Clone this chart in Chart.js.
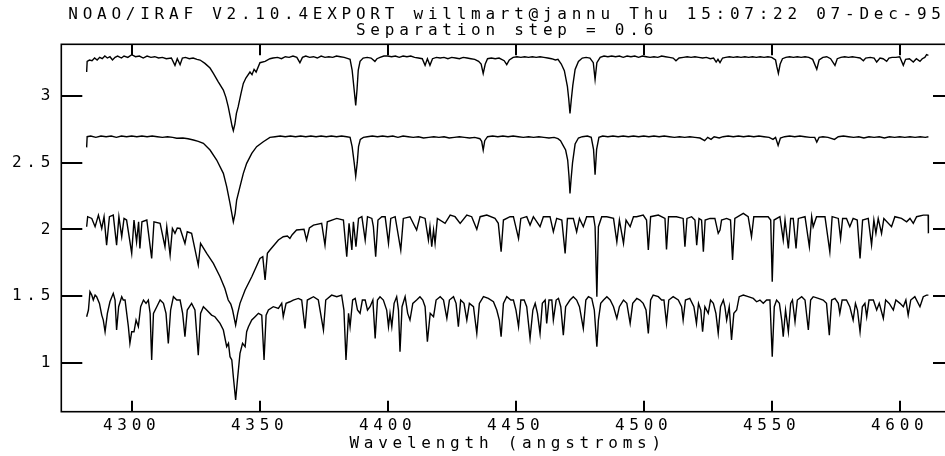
<!DOCTYPE html>
<html>
<head>
<meta charset="utf-8">
<script src="https://cdn.jsdelivr.net/npm/chart.js@4/dist/chart.umd.min.js"></script>
<style>
html,body{margin:0;padding:0;background:#fff;overflow:hidden;width:945px;height:456px;}
canvas{display:block;}
</style>
</head>
<body>
<canvas id="c" width="1014" height="456" style="width:1014px;height:456px"></canvas>
<script>
// ---- data (wavelength in angstroms, flux + offset) ----
const titleLines = ["NOAO/IRAF V2.10.4EXPORT willmart@jannu Thu 15:07:22 07-Dec-95", "Separation step = 0.6"];
const xAxisTitle = "Wavelength (angstroms)";
const xTickValues = [4300, 4350, 4400, 4450, 4500, 4550, 4600];
const yTickValues = [1, 1.5, 2, 2.5, 3];

const specA = [[4282.4,3.18],[4282.6,3.26],[4283.5,3.27],[4284.5,3.265],[4285.5,3.285],[4286.5,3.27],[4287.5,3.29],[4288.5,3.28],[4289.5,3.30],[4290.5,3.285],[4291.5,3.295],[4292.5,3.27],[4293.5,3.29],[4294.5,3.30],[4296,3.285],[4297,3.30],[4298.5,3.29],[4300,3.31],[4301.5,3.295],[4303,3.30],[4304.5,3.285],[4306,3.30],[4307.5,3.29],[4309,3.295],[4310.5,3.285],[4312,3.29],[4313.5,3.28],[4315.5,3.285],[4316.9,3.23],[4317.8,3.28],[4318.9,3.235],[4319.8,3.285],[4321,3.29],[4322.5,3.28],[4324,3.285],[4325.5,3.275],[4326.7,3.27],[4328.6,3.245],[4330.6,3.21],[4331.9,3.17],[4333.7,3.11],[4335.8,3.045],[4336.8,2.99],[4337.7,2.92],[4338.6,2.835],[4339.2,2.775],[4339.7,2.74],[4340.3,2.79],[4340.9,2.87],[4341.6,2.92],[4342.7,3.02],[4343.6,3.095],[4344.6,3.135],[4346.2,3.18],[4347.0,3.16],[4347.8,3.20],[4348.6,3.18],[4350.1,3.25],[4352.1,3.26],[4354,3.28],[4355.2,3.285],[4357,3.29],[4358.5,3.28],[4360,3.295],[4361.5,3.29],[4363,3.30],[4364.5,3.29],[4365.7,3.25],[4366.7,3.29],[4368,3.30],[4369.5,3.29],[4371,3.295],[4372.5,3.285],[4374,3.30],[4375.5,3.29],[4377,3.295],[4378.5,3.29],[4380,3.30],[4381.5,3.295],[4383,3.29],[4384.5,3.28],[4385.3,3.275],[4386.1,3.195],[4386.9,3.045],[4387.5,2.93],[4388,3.045],[4388.5,3.195],[4389.2,3.26],[4390.4,3.285],[4392,3.29],[4393.5,3.285],[4395,3.26],[4395.8,3.28],[4397,3.29],[4398.5,3.30],[4400,3.30],[4401.5,3.295],[4403,3.30],[4404.5,3.29],[4406,3.30],[4407.5,3.295],[4409,3.30],[4410.5,3.29],[4412,3.285],[4413.5,3.28],[4414.6,3.23],[4415.5,3.28],[4416.5,3.23],[4417.5,3.28],[4419,3.29],[4420.5,3.285],[4422,3.29],[4423.5,3.28],[4425,3.29],[4426.5,3.285],[4428,3.28],[4429.5,3.29],[4431,3.285],[4432.5,3.28],[4434,3.275],[4435.5,3.26],[4436.5,3.24],[4437.3,3.17],[4438.1,3.24],[4439,3.28],[4440.5,3.285],[4442,3.28],[4443.5,3.285],[4445.5,3.265],[4446.5,3.235],[4447.5,3.27],[4449,3.29],[4450.5,3.295],[4452,3.29],[4453.5,3.295],[4455,3.29],[4456.5,3.295],[4458,3.29],[4459.5,3.295],[4461,3.29],[4462.5,3.285],[4464,3.28],[4465.5,3.27],[4466.5,3.275],[4467.8,3.24],[4469,3.19],[4470.2,3.07],[4470.7,2.98],[4471.2,2.87],[4471.7,2.97],[4472.3,3.08],[4473.2,3.2],[4474.5,3.26],[4476,3.285],[4477.5,3.29],[4479,3.285],[4480.3,3.25],[4481,3.125],[4481.7,3.25],[4483,3.29],[4484.5,3.30],[4486,3.295],[4487.5,3.30],[4489,3.295],[4490.5,3.30],[4492,3.29],[4493.5,3.30],[4495,3.295],[4496.5,3.30],[4498,3.29],[4499.5,3.30],[4501,3.295],[4502.5,3.29],[4504,3.295],[4505.5,3.29],[4507,3.30],[4508.5,3.295],[4510,3.29],[4511.5,3.285],[4512.6,3.265],[4513.8,3.285],[4515.5,3.29],[4517,3.295],[4518.5,3.29],[4520,3.295],[4521.5,3.29],[4523,3.285],[4524.5,3.29],[4526,3.28],[4527.3,3.285],[4528.3,3.255],[4529,3.275],[4529.8,3.25],[4530.8,3.285],[4532,3.29],[4533.5,3.295],[4535,3.29],[4536.5,3.295],[4538,3.29],[4539.5,3.295],[4541,3.29],[4542.5,3.295],[4544,3.29],[4545.5,3.295],[4547,3.29],[4548.5,3.295],[4550,3.29],[4551.5,3.27],[4552,3.22],[4552.6,3.17],[4553.3,3.24],[4554.2,3.28],[4555.5,3.29],[4557,3.295],[4558.5,3.29],[4560,3.295],[4561.5,3.29],[4563,3.295],[4564.5,3.29],[4566,3.275],[4567.6,3.2],[4568.5,3.27],[4570,3.29],[4571.5,3.295],[4573,3.28],[4574.7,3.23],[4575.6,3.28],[4577,3.29],[4578.5,3.295],[4580,3.29],[4581.5,3.295],[4583,3.29],[4584.5,3.285],[4585.8,3.265],[4586.7,3.285],[4588.5,3.29],[4590,3.285],[4591,3.255],[4592.3,3.285],[4593.5,3.28],[4594.9,3.26],[4595.8,3.285],[4597,3.29],[4598.5,3.29],[4600,3.295],[4601.4,3.23],[4602.3,3.275],[4603.8,3.28],[4605.3,3.255],[4606.5,3.28],[4607.9,3.26],[4608.8,3.28],[4609.8,3.29],[4610.5,3.31],[4611.2,3.305]];

const specB = [[4282.4,2.615],[4282.6,2.695],[4284,2.70],[4286,2.69],[4288,2.70],[4290,2.695],[4292,2.70],[4294,2.69],[4296,2.70],[4298,2.695],[4300,2.70],[4302,2.695],[4304,2.70],[4306,2.695],[4308,2.70],[4310,2.695],[4312,2.69],[4314,2.695],[4316,2.69],[4317.6,2.683],[4320,2.685],[4322,2.68],[4324.1,2.67],[4326,2.66],[4328,2.645],[4330.6,2.595],[4333.2,2.52],[4335.8,2.42],[4337.1,2.32],[4338.4,2.195],[4339.7,2.057],[4340.4,2.12],[4341,2.22],[4342.3,2.32],[4343.6,2.42],[4344.9,2.495],[4346.9,2.57],[4348.8,2.62],[4351.4,2.657],[4354,2.69],[4356,2.695],[4358,2.70],[4360,2.695],[4362,2.70],[4364,2.695],[4366,2.70],[4368,2.695],[4370,2.70],[4372,2.695],[4374,2.70],[4376,2.695],[4378,2.70],[4380,2.695],[4382,2.70],[4384,2.695],[4385.3,2.69],[4386.1,2.62],[4386.9,2.50],[4387.5,2.40],[4388.1,2.50],[4388.6,2.62],[4389.3,2.675],[4390.5,2.69],[4392,2.695],[4394,2.70],[4396,2.695],[4398,2.70],[4400,2.695],[4402,2.70],[4404,2.69],[4406,2.70],[4408,2.695],[4410,2.69],[4412,2.695],[4414,2.685],[4416,2.69],[4418,2.695],[4420,2.69],[4422,2.695],[4424,2.685],[4426,2.69],[4428,2.695],[4430,2.69],[4432,2.685],[4434,2.69],[4436,2.68],[4436.7,2.66],[4437.3,2.595],[4437.9,2.665],[4439,2.695],[4441,2.70],[4443,2.695],[4445,2.70],[4447,2.695],[4449,2.70],[4451,2.695],[4453,2.69],[4455,2.695],[4457,2.69],[4459,2.695],[4461,2.69],[4463,2.685],[4465,2.69],[4466.5,2.68],[4467.5,2.665],[4468.5,2.63],[4469.5,2.595],[4470.3,2.52],[4470.8,2.40],[4471.2,2.27],[4471.6,2.37],[4472.2,2.50],[4473.2,2.64],[4474.5,2.685],[4476,2.695],[4478,2.70],[4479.5,2.69],[4480.4,2.60],[4481,2.41],[4481.6,2.60],[4482.5,2.69],[4484,2.70],[4486,2.695],[4488,2.70],[4490,2.695],[4492,2.70],[4494,2.695],[4496,2.70],[4498,2.695],[4500,2.70],[4502,2.695],[4504,2.70],[4506,2.695],[4508,2.70],[4510,2.695],[4512,2.69],[4514,2.695],[4516,2.69],[4518,2.695],[4520,2.69],[4522,2.685],[4523.8,2.665],[4525,2.69],[4526.3,2.675],[4527.5,2.695],[4529.5,2.685],[4531,2.695],[4533,2.70],[4535,2.695],[4537,2.70],[4539,2.695],[4541,2.70],[4543,2.695],[4545,2.70],[4547,2.695],[4549,2.69],[4550.5,2.675],[4551.5,2.69],[4552.5,2.63],[4553.4,2.685],[4555,2.695],[4557,2.70],[4559,2.695],[4561,2.70],[4563,2.695],[4565,2.69],[4566.8,2.69],[4567.6,2.655],[4568.5,2.69],[4570,2.695],[4572,2.69],[4574.5,2.675],[4576,2.695],[4578,2.70],[4580,2.695],[4582,2.69],[4584,2.695],[4586,2.685],[4588,2.695],[4590,2.69],[4592,2.695],[4594,2.685],[4596,2.695],[4598,2.69],[4600,2.695],[4602,2.69],[4604,2.695],[4606,2.69],[4608,2.695],[4610,2.69],[4611.2,2.695]];

const specC = [[4282.4,2.02],[4282.8,2.095],[4284.4,2.082],[4285.7,2.02],[4287.0,2.107],[4288.3,2.007],[4289.2,2.095],[4290.2,1.882],[4291.3,2.095],[4292.8,2.107],[4294.1,1.882],[4295.0,2.095],[4296.1,1.945],[4297.0,2.082],[4298.0,2.07],[4300.0,1.82],[4300.9,2.07],[4301.9,1.907],[4302.7,2.057],[4303.2,1.857],[4304.0,2.057],[4305.9,2.07],[4307.8,1.782],[4308.7,2.057],[4311.1,2.045],[4313.0,1.87],[4313.7,2.02],[4315.0,1.807],[4315.9,2.007],[4316.9,1.97],[4317.8,2.01],[4318.9,2.007],[4320.8,1.895],[4321.7,1.982],[4323.4,1.97],[4326.0,1.732],[4326.9,1.895],[4329.3,1.82],[4331.9,1.745],[4334.5,1.645],[4336.4,1.557],[4337.7,1.47],[4338.7,1.44],[4339.4,1.395],[4340.6,1.282],[4341.4,1.37],[4342.3,1.445],[4344.3,1.545],[4346.9,1.645],[4350.1,1.782],[4351.2,1.795],[4352.1,1.62],[4353.0,1.82],[4354.0,1.845],[4357.3,1.92],[4359.2,1.945],[4360.8,1.95],[4361.8,1.932],[4362.7,1.96],[4364.4,1.995],[4367.3,2.0],[4368.3,1.92],[4369.4,2.01],[4371.0,2.032],[4374.2,2.045],[4375.5,1.882],[4376.4,2.057],[4380.1,2.082],[4382.7,2.07],[4384.0,1.795],[4384.9,2.045],[4386.0,1.845],[4386.6,2.057],[4387.6,1.87],[4388.6,2.082],[4389.9,2.095],[4391.2,1.92],[4392.1,2.095],[4393.8,2.082],[4394.4,2.02],[4395.3,1.795],[4396.2,2.07],[4397.7,2.095],[4399.0,2.095],[4400.3,1.895],[4401.2,2.082],[4402.9,2.095],[4405.1,1.845],[4406.1,2.082],[4408.7,2.095],[4411.3,1.995],[4412.6,2.095],[4414.6,2.082],[4415.9,1.92],[4416.5,2.02],[4417.2,1.87],[4417.9,1.995],[4418.5,1.895],[4419.4,2.082],[4422.4,2.045],[4424.4,2.107],[4426.3,2.095],[4428.3,2.045],[4430.9,2.107],[4432.8,2.095],[4434.8,2.0],[4436.1,2.095],[4438.7,2.107],[4441.9,2.082],[4443.2,2.045],[4444.3,1.832],[4445.2,2.07],[4447.8,2.095],[4449.1,2.095],[4451.1,1.932],[4452.0,2.082],[4454.3,2.095],[4455.6,2.032],[4456.9,2.095],[4459.5,2.02],[4460.8,2.095],[4463.4,2.095],[4464.7,1.982],[4466.0,2.082],[4468.0,2.07],[4469.3,1.82],[4470.2,2.082],[4472.5,2.082],[4473.8,1.982],[4474.9,2.082],[4476.4,2.02],[4477.7,2.095],[4480.4,2.095],[4481.0,2.02],[4481.7,1.495],[4482.3,2.02],[4483.6,2.095],[4485.6,2.095],[4488.2,2.082],[4489.5,1.907],[4490.5,2.07],[4492.1,1.895],[4493.1,2.07],[4494.7,2.02],[4496.0,2.095],[4497.2,2.095],[4499.8,2.107],[4501.1,2.07],[4501.8,1.845],[4502.7,2.095],[4505.7,2.107],[4508.3,2.082],[4508.9,1.85],[4509.7,2.095],[4512.8,2.095],[4515.4,2.082],[4516.1,1.87],[4516.9,2.082],[4518.7,2.095],[4520.0,2.07],[4520.7,1.882],[4521.6,2.082],[4522.6,2.07],[4523.3,1.832],[4524.0,2.07],[4525.9,2.082],[4527.8,2.082],[4529.1,1.97],[4529.8,1.995],[4530.4,2.07],[4532.4,2.082],[4533.9,2.07],[4534.7,1.77],[4535.6,2.082],[4538.9,2.12],[4540.8,2.095],[4542.1,1.945],[4543.0,2.095],[4545.4,2.095],[4548.6,2.095],[4549.6,2.07],[4550.2,1.607],[4550.9,2.07],[4553.2,2.095],[4554.5,1.92],[4555.2,2.07],[4556.5,1.857],[4557.4,2.082],[4558.4,2.082],[4559.5,1.857],[4560.4,2.082],[4563.0,2.095],[4564.7,1.87],[4565.6,2.095],[4566.2,2.02],[4567.5,2.095],[4570.8,2.095],[4572.7,1.832],[4573.6,2.095],[4576.0,2.082],[4576.9,1.932],[4577.7,2.082],[4579.2,2.082],[4580.5,2.02],[4581.8,2.082],[4583.4,2.07],[4584.5,1.782],[4585.5,2.07],[4587.7,2.082],[4589.0,1.882],[4589.9,2.07],[4590.7,1.97],[4591.6,2.082],[4592.9,1.97],[4593.8,2.082],[4596.8,2.02],[4598.1,2.095],[4600.7,2.082],[4602.7,2.057],[4604.0,2.082],[4605.3,2.045],[4606.6,2.095],[4609.2,2.107],[4611.1,2.107],[4611.2,1.97]];

const specD = [[4282.4,1.345],[4283.1,1.395],[4283.7,1.532],[4284.4,1.507],[4285.0,1.47],[4285.7,1.507],[4286.3,1.495],[4287.4,1.445],[4288.3,1.357],[4288.9,1.32],[4289.6,1.232],[4290.5,1.37],[4291.5,1.457],[4292.8,1.52],[4293.5,1.47],[4294.1,1.245],[4294.9,1.42],[4296.1,1.495],[4296.7,1.47],[4297.4,1.47],[4298.7,1.27],[4299.3,1.145],[4300.0,1.232],[4300.9,1.232],[4301.7,1.32],[4302.6,1.27],[4303.5,1.42],[4304.6,1.47],[4305.6,1.445],[4306.5,1.47],[4307.2,1.37],[4307.8,1.02],[4308.5,1.37],[4309.8,1.42],[4311.1,1.47],[4312.4,1.445],[4313.4,1.37],[4314.3,1.145],[4315.2,1.395],[4316.3,1.495],[4317.6,1.47],[4318.9,1.47],[4319.9,1.37],[4320.8,1.195],[4321.7,1.395],[4323.4,1.445],[4324.7,1.395],[4326.0,1.057],[4326.9,1.37],[4328.0,1.42],[4329.3,1.395],[4331.2,1.357],[4332.5,1.345],[4334.5,1.295],[4335.8,1.245],[4337.1,1.12],[4337.8,1.145],[4338.4,1.045],[4339.1,1.02],[4339.7,0.895],[4340.6,0.72],[4341.3,0.87],[4342.3,1.07],[4343.3,1.145],[4344.3,1.12],[4344.9,1.232],[4345.6,1.27],[4346.9,1.32],[4348.2,1.345],[4349.5,1.37],[4350.8,1.357],[4351.7,1.02],[4352.5,1.357],[4353.4,1.395],[4355.3,1.42],[4357.3,1.407],[4358.6,1.445],[4359.2,1.345],[4360.3,1.445],[4361.8,1.457],[4363.1,1.47],[4365.1,1.482],[4366.4,1.47],[4367.7,1.257],[4368.6,1.47],[4371.0,1.495],[4372.9,1.47],[4374.9,1.245],[4375.8,1.47],[4378.1,1.507],[4380.1,1.495],[4382.0,1.507],[4382.9,1.395],[4383.7,1.02],[4384.7,1.37],[4385.3,1.27],[4386.3,1.47],[4387.3,1.482],[4388.2,1.395],[4389.2,1.37],[4390.1,1.47],[4391.2,1.47],[4392.1,1.395],[4393.1,1.42],[4394.2,1.47],[4395.1,1.182],[4396.0,1.47],[4397.0,1.495],[4398.3,1.47],[4399.6,1.395],[4400.3,1.27],[4400.9,1.37],[4401.6,1.27],[4402.5,1.445],[4403.5,1.495],[4404.2,1.395],[4404.8,1.082],[4405.6,1.42],[4406.8,1.495],[4407.8,1.37],[4408.7,1.32],[4409.8,1.445],[4411.3,1.47],[4412.6,1.495],[4413.7,1.47],[4414.6,1.42],[4415.5,1.157],[4416.6,1.37],[4417.9,1.345],[4418.9,1.47],[4420.5,1.495],[4421.8,1.47],[4423.1,1.332],[4424.1,1.47],[4425.7,1.495],[4426.7,1.445],[4427.6,1.27],[4428.5,1.47],[4429.8,1.445],[4430.9,1.32],[4431.9,1.445],[4433.5,1.42],[4434.8,1.22],[4435.8,1.445],[4437.4,1.495],[4439.3,1.482],[4441.3,1.457],[4442.6,1.395],[4443.6,1.32],[4444.3,1.195],[4445.2,1.445],[4446.5,1.495],[4448.1,1.47],[4449.1,1.47],[4450.1,1.395],[4451.1,1.27],[4452.0,1.47],[4453.3,1.47],[4454.3,1.42],[4455.6,1.182],[4456.7,1.395],[4457.6,1.445],[4458.5,1.37],[4459.5,1.22],[4460.4,1.445],[4461.5,1.47],[4462.1,1.295],[4463.0,1.47],[4464.1,1.47],[4464.7,1.32],[4465.8,1.47],[4466.7,1.482],[4467.6,1.42],[4468.6,1.207],[4469.5,1.42],[4471.2,1.47],[4472.5,1.495],[4473.8,1.47],[4474.9,1.42],[4476.4,1.257],[4477.4,1.47],[4478.4,1.495],[4479.7,1.482],[4480.7,1.395],[4481.7,1.12],[4482.3,1.32],[4483.2,1.445],[4484.3,1.47],[4485.6,1.495],[4486.9,1.47],[4488.2,1.42],[4489.5,1.332],[4490.5,1.42],[4492.1,1.47],[4493.4,1.445],[4494.7,1.295],[4495.7,1.445],[4497.3,1.482],[4498.5,1.47],[4499.8,1.445],[4500.9,1.395],[4501.8,1.22],[4502.7,1.47],[4503.7,1.507],[4505.7,1.495],[4507.0,1.47],[4507.9,1.47],[4508.9,1.295],[4509.8,1.47],[4511.5,1.495],[4513.5,1.47],[4514.8,1.42],[4515.4,1.32],[4516.3,1.47],[4518.0,1.482],[4519.6,1.42],[4520.6,1.295],[4521.4,1.445],[4522.3,1.395],[4523.0,1.232],[4523.9,1.42],[4525.2,1.37],[4526.1,1.47],[4527.2,1.445],[4528.2,1.37],[4529.1,1.22],[4530.0,1.42],[4531.1,1.47],[4531.7,1.42],[4532.4,1.32],[4533.4,1.42],[4534.3,1.17],[4535.2,1.37],[4536.3,1.395],[4537.3,1.495],[4538.9,1.507],[4540.8,1.495],[4542.8,1.482],[4544.1,1.457],[4545.4,1.47],[4546.7,1.445],[4548.0,1.47],[4549.3,1.47],[4550.2,1.045],[4551.0,1.42],[4551.9,1.47],[4553.0,1.445],[4553.9,1.32],[4554.5,1.195],[4555.4,1.395],[4556.5,1.232],[4557.4,1.445],[4558.1,1.47],[4559.1,1.307],[4560.0,1.47],[4561.7,1.495],[4563.0,1.47],[4564.3,1.245],[4565.2,1.47],[4566.2,1.495],[4568.2,1.482],[4570.1,1.47],[4571.4,1.445],[4572.5,1.207],[4573.4,1.47],[4574.7,1.482],[4576.0,1.445],[4576.6,1.37],[4577.5,1.47],[4579.2,1.47],[4580.5,1.42],[4581.8,1.32],[4582.7,1.445],[4583.5,1.395],[4584.5,1.232],[4585.4,1.42],[4586.4,1.445],[4587.1,1.345],[4588.0,1.47],[4589.7,1.47],[4591.0,1.395],[4592.0,1.445],[4593.6,1.332],[4594.5,1.47],[4595.9,1.445],[4597.5,1.395],[4598.5,1.47],[4600.1,1.445],[4601.4,1.42],[4602.4,1.47],[4603.3,1.357],[4604.3,1.47],[4605.9,1.495],[4607.9,1.42],[4609.2,1.495],[4610.5,1.507],[4611.2,1.507]];

// ---- chart ----
const FONT = "'DejaVu Sans Mono', 'Liberation Mono', monospace";
const SPACING = '4.75px';
Chart.defaults.font.family = FONT;
Chart.defaults.font.size = 16;
Chart.defaults.color = '#000';

const spacingPlugin = {
  id: 'spacing',
  beforeInit(c) { c.ctx.letterSpacing = SPACING; },
  beforeUpdate(c) { c.ctx.letterSpacing = SPACING; },
  beforeLayout(c) { c.ctx.letterSpacing = SPACING; },
  beforeDraw(c) { c.ctx.letterSpacing = SPACING; }
};

const framePlugin = {
  id: 'frame',
  afterDatasetsDraw(chart) {
    const {ctx, chartArea: a, scales: {x, y}} = chart;
    ctx.save();
    ctx.strokeStyle = '#000';
    ctx.lineWidth = 1.6;
    ctx.strokeRect(a.left, a.top, a.right - a.left, a.bottom - a.top);
    ctx.lineWidth = 2;
    ctx.beginPath();
    x.ticks.forEach(t => {
      const px = Math.round(x.getPixelForValue(t.value));
      ctx.moveTo(px, a.top); ctx.lineTo(px, a.top + 11);
      ctx.moveTo(px, a.bottom); ctx.lineTo(px, a.bottom - 11);
    });
    y.ticks.forEach(t => {
      const py = Math.round(y.getPixelForValue(t.value));
      ctx.moveTo(a.left, py); ctx.lineTo(a.left + 21, py);
      ctx.moveTo(a.right, py); ctx.lineTo(a.right - 21, py);
    });
    ctx.stroke();
    ctx.restore();
  }
};

const mk = arr => arr.map(p => ({x: p[0], y: p[1]}));
const ds = (label, arr) => ({
  label, data: mk(arr), showLine: true, borderColor: '#000', borderWidth: 1.4,
  pointRadius: 0, tension: 0, fill: false
});

new Chart(document.getElementById('c'), {
  type: 'scatter',
  data: {
    datasets: [ds('spec 1', specA), ds('spec 2', specB), ds('spec 3', specC), ds('spec 4', specD)]
  },
  options: {
    responsive: false,
    devicePixelRatio: 1,
    animation: false,
    layout: {padding: 0},
    plugins: {
      legend: {display: false},
      tooltip: {enabled: false},
      title: {
        display: true,
        text: titleLines,
        color: '#000',
        font: {family: FONT, size: 16, weight: 'normal', lineHeight: '15.5px'},
        padding: {top: 7.5, bottom: 5.8}
      }
    },
    scales: {
      x: {
        type: 'linear',
        position: 'bottom',
        min: 4272.5,
        max: 4621.2,
        afterBuildTicks: s => { s.ticks = xTickValues.map(v => ({value: v})); },
        afterFit: s => { s.height = 44.3; },
        grid: {display: false, drawTicks: false},
        border: {display: false},
        ticks: {
          padding: 4.3,
          maxRotation: 0,
          autoSkip: false,
          color: '#000',
          font: {family: FONT, size: 16, lineHeight: 1.2},
          callback: v => String(v)
        },
        title: {
          display: true,
          text: xAxisTitle,
          color: '#000',
          font: {family: FONT, size: 16, lineHeight: 1.2},
          padding: {top: 0, bottom: 3}
        }
      },
      y: {
        type: 'linear',
        position: 'left',
        min: 0.6325,
        max: 3.388,
        afterBuildTicks: s => { s.ticks = yTickValues.map(v => ({value: v})); },
        afterFit: s => { s.width = 61.3; },
        grid: {display: false, drawTicks: false},
        border: {display: false},
        ticks: {
          padding: 6.2,
          autoSkip: false,
          color: '#000',
          font: {family: FONT, size: 16, lineHeight: 1.2},
          callback: v => String(v)
        }
      },
      yRight: {
        type: 'linear',
        position: 'right',
        min: 0.6325,
        max: 3.388,
        afterFit: s => { s.width = 60; },
        grid: {display: false, drawTicks: false},
        border: {display: false},
        ticks: {display: false}
      }
    }
  },
  plugins: [spacingPlugin, framePlugin]
});
</script>
</body>
</html>
